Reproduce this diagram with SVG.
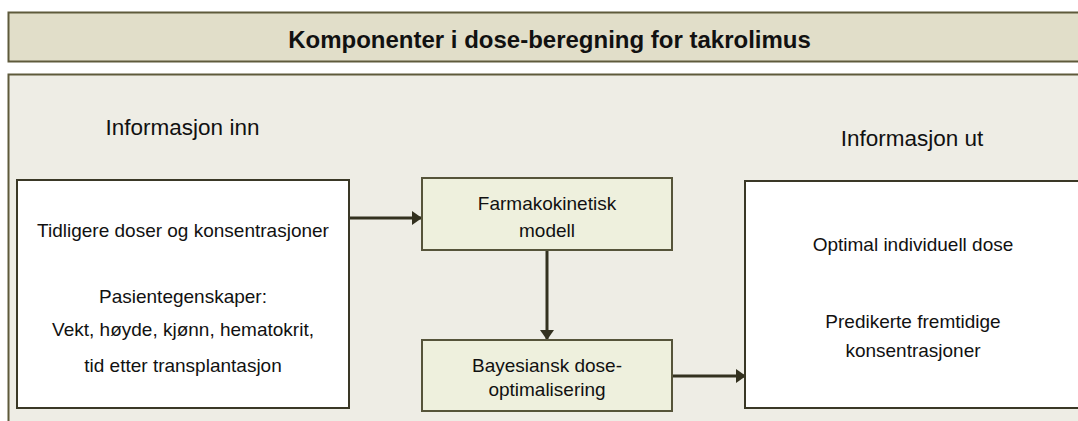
<svg xmlns="http://www.w3.org/2000/svg" width="1078" height="421" viewBox="0 0 1078 421">
<defs>
<style>
.t{font-family:"Liberation Sans",Arial,sans-serif;fill:#111;text-anchor:middle}
.b{font-size:19px}
.h{font-size:22.5px}
.title{font-size:24px;font-weight:bold}
.conn{stroke:#33311f;stroke-width:3;fill:none}
.box{fill:#ffffff;stroke:#3a3826;stroke-width:2}
.mid{fill:#eef0dd;stroke:#56543a;stroke-width:2}
</style>
<marker id="ah" viewBox="0 0 10 14" refX="10" refY="7" markerWidth="10" markerHeight="14" markerUnits="userSpaceOnUse" orient="auto">
<path d="M0,0 L10,7 L0,14 Z" fill="#33311f"/>
</marker>
</defs>
<rect width="1078" height="421" fill="#ffffff"/>
<g id="titlebar">
<rect x="8.5" y="12.5" width="1080" height="49" fill="#e1dec9" stroke="#5e5a3b" stroke-width="2"/>
<text class="t title" x="549.5" y="48">Komponenter i dose-beregning for takrolimus</text>
</g>
<g id="panel">
<rect x="8.5" y="74.5" width="1080" height="360" fill="#eeede5" stroke="#5e5a3b" stroke-width="2"/>
<text class="t h" x="182.5" y="135">Informasjon inn</text>
<text class="t h" x="912" y="146">Informasjon ut</text>
</g>
<g id="connectors">
<line class="conn" x1="349" y1="218" x2="422" y2="218" marker-end="url(#ah)"/>
<line class="conn" x1="547" y1="250" x2="547" y2="340" marker-end="url(#ah)"/>
<line class="conn" x1="672" y1="376" x2="746" y2="376" marker-end="url(#ah)"/>
</g>
<g id="input">
<rect class="box" x="17" y="180" width="332" height="228"/>
<text class="t b" x="183" y="237">Tidligere doser og konsentrasjoner</text>
<text class="t b" x="183" y="303">Pasientegenskaper:</text>
<text class="t b" x="183" y="336">Vekt, høyde, kjønn, hematokrit,</text>
<text class="t b" x="183" y="372">tid etter transplantasjon</text>
</g>
<g id="pkmodel">
<rect class="mid" x="422" y="178" width="250" height="72"/>
<text class="t b" x="547" y="210">Farmakokinetisk</text>
<text class="t b" x="547" y="237">modell</text>
</g>
<g id="bayes">
<rect class="mid" x="422" y="340" width="250" height="71"/>
<text class="t b" x="547" y="372">Bayesiansk dose-</text>
<text class="t b" x="547" y="396">optimalisering</text>
</g>
<g id="output">
<rect class="box" x="745" y="181" width="340" height="227"/>
<text class="t b" x="913" y="251">Optimal individuell dose</text>
<text class="t b" x="913" y="328">Predikerte fremtidige</text>
<text class="t b" x="913" y="357">konsentrasjoner</text>
</g>
</svg>
